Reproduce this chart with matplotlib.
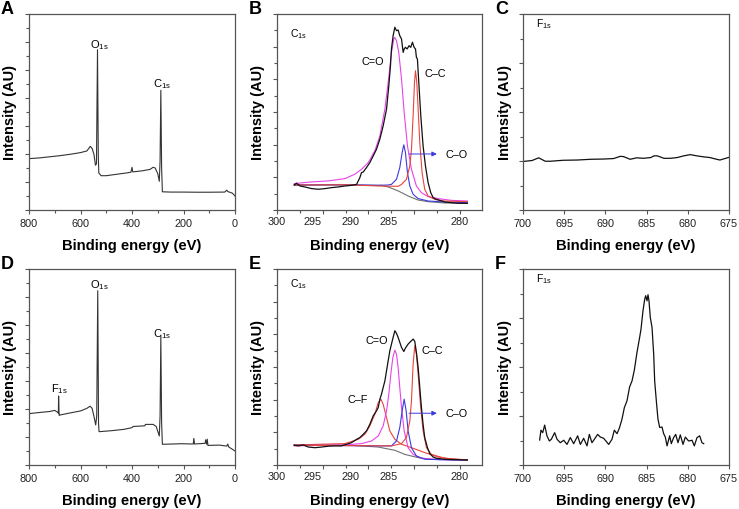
import matplotlib
matplotlib.use("Agg")
import matplotlib.pyplot as plt
from matplotlib.ticker import MultipleLocator
from matplotlib.transforms import blended_transform_factory

plt.rcParams['font.family'] = ['Liberation Sans', 'DejaVu Sans']
plt.rcParams['mathtext.default'] = 'regular'

# ---- survey spectra (A: pristine, D: fluorinated) ----
a_ev = [800, 760, 720, 680, 640, 600, 575, 562, 555, 548, 542, 538, 534, 531, 529, 520, 500, 460,
        420, 404, 400, 397, 360, 330, 318, 310, 300, 294, 291, 288, 285, 282, 250, 200, 150, 100,
        40, 32, 28, 10, 0]
a_int = [3.67, 3.72, 3.80, 3.88, 3.98, 4.10, 4.22, 4.55, 4.40, 4.00, 3.20, 3.30, 11.45, 4.0, 2.65,
         2.45, 2.45, 2.55, 2.65, 2.70, 3.05, 2.72, 2.80, 2.90, 3.05, 3.00, 2.60, 2.05, 3.5, 8.55,
         3.0, 1.30, 1.28, 1.28, 1.27, 1.27, 1.28, 1.42, 1.32, 1.20, 1.00]

d_ev = [800, 760, 720, 700, 690, 686, 685, 683, 680, 640, 600, 575, 563, 555, 548, 541, 537, 533,
        530, 528, 480, 430, 400, 396, 350, 348, 318, 306, 294, 291, 288, 285, 282, 240, 210, 162,
        160, 157, 116, 114, 110, 108, 105, 60, 32, 28, 25, 0]
d_int = [3.67, 3.75, 3.82, 3.90, 3.78, 3.70, 4.93, 3.55, 3.57, 3.72, 3.86, 4.05, 4.20, 4.05, 3.50,
         2.86, 3.5, 12.45, 3.0, 2.38, 2.45, 2.55, 2.67, 2.75, 2.80, 2.90, 2.90, 2.75, 2.07, 3.5,
         9.2, 3.0, 1.48, 1.50, 1.52, 1.50, 1.90, 1.50, 1.55, 1.80, 1.48, 1.85, 1.40, 1.42, 1.35,
         1.50, 1.30, 1.00]

# ---- C1s high resolution, panel B ----
b_ev = [298.11, 297.85, 297.49, 296.94, 296.21, 295.48, 294.75, 294.03, 293.30, 292.57, 291.84,
        291.29, 290.93, 290.75, 290.56, 290.20, 289.84, 289.47, 289.11, 288.74, 288.38, 288.01,
        287.76, 287.58, 287.47, 287.29, 287.10, 286.92, 286.74, 286.56, 286.37, 286.19, 286.08,
        285.94, 285.76, 285.54, 285.36, 285.17, 284.99, 284.84, 284.74, 284.63, 284.48, 284.26,
        284.01, 283.75, 283.46, 283.17, 282.91, 282.55, 282.19, 281.64, 280.91, 280.18, 279.45,
        279.16]
b_int = [1.53, 1.64, 1.47, 1.41, 1.31, 1.27, 1.31, 1.37, 1.41, 1.47, 1.51, 1.57, 1.98, 2.29, 2.33,
         2.60, 2.90, 3.31, 3.72, 4.34, 5.15, 6.18, 7.61, 8.83, 9.86, 10.67, 11.19, 10.98, 11.02,
         10.67, 10.47, 9.65, 9.86, 9.96, 9.86, 10.06, 9.96, 10.27, 9.96, 9.86, 9.35, 9.24, 7.81,
         5.77, 3.93, 2.70, 1.68, 1.06, 0.76, 0.65, 0.59, 0.49, 0.45, 0.41, 0.41, 0.41]

b_cdo_ev = [298.11, 296.21, 294.39, 292.57, 291.48, 290.75, 290.02, 289.29, 288.74, 288.19, 287.83,
            287.47, 287.21, 287.10, 286.92, 286.67, 286.37, 286.08, 285.72, 285.28, 284.74, 284.19,
            283.46, 282.37, 280.91, 279.16]
b_cdo_int = [1.62, 1.72, 1.78, 1.92, 2.19, 2.49, 2.90, 3.62, 4.54, 6.18, 7.81, 9.65, 10.47, 10.57,
             10.37, 9.65, 8.02, 5.97, 3.93, 2.49, 1.47, 1.06, 0.82, 0.70, 0.59, 0.55]

b_cc_ev = [298.11, 292.57, 288.92, 286.74, 286.37, 285.83, 285.46, 285.28, 285.10, 284.95, 284.84,
           284.70, 284.55, 284.37, 284.12, 283.83, 283.46, 282.73, 281.64, 279.16]
b_cc_int = [1.53, 1.55, 1.47, 1.45, 1.57, 1.88, 2.70, 3.72, 5.77, 7.81, 8.53, 7.81, 6.18, 4.13,
            2.29, 1.27, 0.86, 0.65, 0.55, 0.51]

b_co_ev = [298.11, 292.57, 288.92, 287.83, 287.47, 286.92, 286.56, 286.30, 286.12, 285.94, 285.72,
           285.46, 285.10, 284.55, 283.46, 281.64, 279.16]
b_co_int = [1.53, 1.55, 1.51, 1.53, 1.57, 1.88, 2.60, 3.52, 3.99, 3.52, 2.29, 1.47, 0.96, 0.70,
            0.55, 0.49, 0.45]

b_bg_ev = [298.11, 292.57, 288.56, 287.83, 286.74, 285.65, 284.55, 283.46, 281.64, 279.16]
b_bg_int = [1.53, 1.53, 1.51, 1.41, 1.17, 0.86, 0.61, 0.51, 0.43, 0.41]

# ---- C1s high resolution, panel E ----
e_ev = [298.11, 297.67, 297.12, 296.57, 295.85, 295.12, 294.39, 293.66, 292.94, 292.39, 291.84,
        291.29, 290.93, 290.56, 290.20, 289.84, 289.47, 289.11, 288.92, 288.74, 288.56, 288.38,
        288.19, 288.01, 287.83, 287.65, 287.47, 287.29, 287.10, 286.92, 286.74, 286.56, 286.37,
        286.12, 285.94, 285.65, 285.46, 285.28, 285.10, 284.92, 284.74, 284.55, 284.37, 284.19,
        284.01, 283.83, 283.53, 283.28, 282.91, 282.55, 281.64, 280.55, 279.16]
e_int = [1.21, 1.17, 1.23, 1.10, 1.06, 1.10, 1.15, 1.17, 1.17, 1.27, 1.37, 1.57, 1.68, 1.88, 2.09,
         2.49, 3.01, 3.31, 3.52, 4.03, 4.34, 4.74, 5.15, 5.77, 6.38, 6.99, 7.40, 7.81, 8.22, 8.06,
         7.81, 7.51, 7.20, 6.95, 7.16, 7.40, 7.51, 7.61, 7.71, 7.57, 6.89, 5.97, 4.74, 3.52, 2.49,
         1.68, 1.06, 0.70, 0.49, 0.41, 0.35, 0.33, 0.31]

e_cf_ev = [298.11, 292.57, 291.11, 290.38, 289.84, 289.29, 288.92, 288.63, 288.38, 288.01, 287.65,
           287.10, 286.37, 285.28, 283.83, 282.37, 280.91, 279.16]
e_cf_int = [1.23, 1.31, 1.57, 1.88, 2.39, 3.11, 3.82, 4.03, 3.72, 2.90, 2.09, 1.57, 1.27, 1.06,
            0.76, 0.49, 0.37, 0.31]

e_cdo_ev = [298.11, 292.57, 290.75, 289.66, 288.92, 288.38, 288.01, 287.76, 287.54, 287.32, 287.10,
            286.92, 286.74, 286.56, 286.37, 286.08, 285.65, 285.10, 284.19, 282.37, 279.16]
e_cdo_int = [1.17, 1.23, 1.31, 1.47, 1.78, 2.39, 3.31, 4.34, 5.56, 6.58, 7.03, 6.79, 5.97, 4.74,
             3.52, 2.09, 1.06, 0.65, 0.41, 0.33, 0.29]

e_co_ev = [298.11, 288.92, 287.47, 286.92, 286.56, 286.30, 286.08, 285.86, 285.65, 285.28, 284.74,
           283.83, 279.16]
e_co_int = [1.21, 1.17, 1.17, 1.47, 2.29, 3.31, 4.03, 3.31, 2.09, 1.06, 0.55, 0.35, 0.29]

e_cc_ev = [298.11, 287.47, 286.37, 285.83, 285.46, 285.28, 285.10, 284.92, 284.74, 284.55, 284.30,
           284.01, 283.64, 283.10, 281.64, 279.16]
e_cc_int = [1.21, 1.17, 1.31, 1.68, 2.70, 3.93, 6.18, 7.30, 6.79, 5.56, 3.72, 2.09, 1.06, 0.65,
            0.41, 0.31]

e_bg_ev = [298.11, 292.57, 288.92, 287.10, 286.01, 284.55, 283.10, 279.16]
e_bg_int = [1.21, 1.23, 1.10, 0.90, 0.65, 0.45, 0.35, 0.31]

# ---- F1s high resolution (C: pristine, F: fluorinated) ----
c_ev = [700.0, 698.9, 698.1, 697.3, 696.7, 695.1, 693.4, 691.8, 690.2, 689.0, 688.2, 687.8, 687.0,
        686.2, 685.4, 684.5, 684.1, 683.7, 682.9, 682.1, 681.3, 680.5, 679.7, 678.9, 678.1, 677.3,
        676.5, 676.1, 675.5, 675.0]
c_int = [1.98, 2.02, 2.13, 1.99, 1.99, 2.03, 2.04, 2.07, 2.08, 2.10, 2.19, 2.18, 2.07, 2.13, 2.11,
         2.14, 2.21, 2.21, 2.11, 2.11, 2.14, 2.21, 2.26, 2.21, 2.17, 2.14, 2.07, 2.04, 2.10, 2.15]

f_ev = [697.98, 697.82, 697.61, 697.37, 697.09, 696.80, 696.56, 696.16, 695.87, 695.47, 695.06,
        694.66, 694.26, 693.85, 693.37, 693.04, 692.64, 692.23, 691.95, 691.63, 691.34, 690.94,
        690.61, 690.21, 689.60, 689.20, 688.92, 688.59, 688.31, 687.99, 687.70, 687.38, 687.06,
        686.77, 686.49, 686.17, 685.88, 685.68, 685.44, 685.23, 685.11, 684.95, 684.83, 684.71,
        684.55, 684.34, 684.14, 684.02, 683.82, 683.62, 683.41, 683.13, 682.93, 682.73, 682.52,
        682.20, 682.00, 681.72, 681.47, 681.19, 680.91, 680.58, 680.30, 679.90, 679.49, 679.21,
        678.88, 678.56, 678.28, 678.07]
f_int = [1.02, 1.42, 1.32, 1.63, 1.19, 0.98, 1.05, 1.32, 1.05, 0.91, 1.01, 0.84, 1.12, 0.87, 1.19,
         0.84, 1.09, 0.78, 1.25, 0.91, 1.05, 1.25, 1.14, 1.09, 0.84, 1.05, 1.42, 1.28, 1.50, 1.87,
         2.34, 2.62, 3.19, 3.43, 3.87, 4.59, 5.14, 5.54, 6.29, 6.77, 6.91, 6.70, 6.95, 6.70, 6.02,
         5.61, 4.52, 3.43, 2.62, 1.87, 1.53, 1.55, 1.28, 1.14, 0.78, 1.19, 0.87, 1.12, 1.25, 0.91,
         1.23, 0.84, 1.14, 0.98, 1.01, 0.78, 1.12, 1.19, 0.91, 0.87]

survey_ticks = [800, 600, 400, 200, 0]
c1s_ticks = [300, 295, 290, 285, 280]
# the C1s panels print their labels off the tick marks; these are where they sit
c1s_label_pos = [300, 296.07, 291.91, 287.76, 280]
c1s_labels = ['300', '295', '290', '285', '280']
f1s_ticks = [700, 695, 690, 685, 680, 675]

SPINE = '#555555'
MAGENTA = '#e843e8'
RED = '#e8453c'
BLUE = '#3a3ae0'
GRAY = '#707070'

fig = plt.figure(figsize=(7.39, 5.10), dpi=100)

W, H = 739.0, 510.0


def make_ax(left_px, top_px, w_px, h_px):
    return fig.add_axes([left_px / W, 1 - (top_px + h_px) / H, w_px / W, h_px / H])


def style(ax, xlim, ylim, xticks, xminor, ymajor, show_labels=True):
    ax.set_xlim(*xlim)
    ax.set_ylim(*ylim)
    ax.set_xticks(xticks)
    if show_labels:
        ax.set_xticklabels([str(t) for t in xticks])
    else:
        ax.set_xticklabels([])
    if xminor:
        ax.xaxis.set_minor_locator(MultipleLocator(xminor))
    ax.yaxis.set_major_locator(MultipleLocator(ymajor * 2))
    ax.yaxis.set_minor_locator(MultipleLocator(ymajor))
    ax.set_yticklabels([])
    ax.tick_params(which='both', direction='out', colors=SPINE, width=0.8,
                   labelcolor='#222222', labelsize=7.8, top=False, right=False)
    ax.tick_params(which='major', length=3, pad=3)
    ax.tick_params(which='minor', length=2)
    for s in ax.spines.values():
        s.set_color(SPINE)
        s.set_linewidth(0.9)


rows = [15, 270]
cols = [29, 277, 523]
widths = [206, 205, 206]
AX_H = 196

axes = {}
letters = ['A', 'B', 'C', 'D', 'E', 'F']
k = 0
for r, top in enumerate(rows):
    for c, left in enumerate(cols):
        axes[letters[k]] = make_ax(left, top, widths[c], AX_H)
        k += 1

# survey panels
for key, ev, inten in [('A', a_ev, a_int), ('D', d_ev, d_int)]:
    ax = axes[key]
    ax.plot(ev, inten, color='#333333', lw=0.8)
    style(ax, (800, 0), (0, 14), survey_ticks, 100, 1)

axes['A'].text(563, 11.62, 'O$_{1s}$', fontsize=8)
axes['A'].text(318, 8.83, 'C$_{1s}$', fontsize=8)
axes['D'].text(563, 12.67, 'O$_{1s}$', fontsize=8)
axes['D'].text(318, 9.2, 'C$_{1s}$', fontsize=8)
axes['D'].text(715, 5.3, 'F$_{1s}$', fontsize=8)

# C1s panels
ax = axes['B']
ax.plot(b_bg_ev, b_bg_int, color=GRAY, lw=0.8)
ax.plot(b_cdo_ev, b_cdo_int, color=MAGENTA, lw=0.8)
ax.plot(b_co_ev, b_co_int, color=BLUE, lw=0.8)
ax.plot(b_cc_ev, b_cc_int, color=RED, lw=0.8)
ax.plot(b_ev, b_int, color='#111111', lw=0.9)
ax.text(298.6, 10.63, 'C$_{1s}$', fontsize=7.5)
ax.text(290.7, 8.96, 'C=O', fontsize=7.8)
ax.text(283.8, 8.2, 'C\u2013C', fontsize=7.8)
ax.annotate('', xy=(282.2, 3.43), xytext=(285.85, 3.43),
            arrowprops=dict(arrowstyle='-|>', color=BLUE, lw=0.7, mutation_scale=7))
ax.text(281.6, 3.43, 'C\u2013O', fontsize=7.8, va='center')

ax = axes['E']
ax.plot(e_bg_ev, e_bg_int, color=GRAY, lw=0.8)
ax.plot(e_cf_ev, e_cf_int, color=RED, lw=0.8)
ax.plot(e_cdo_ev, e_cdo_int, color=MAGENTA, lw=0.8)
ax.plot(e_co_ev, e_co_int, color=BLUE, lw=0.8)
ax.plot(e_cc_ev, e_cc_int, color=RED, lw=0.8)
ax.plot(e_ev, e_int, color='#111111', lw=0.9)
ax.text(298.6, 10.94, 'C$_{1s}$', fontsize=7.5)
ax.text(290.3, 7.45, 'C=O', fontsize=7.8)
ax.text(284.2, 6.85, 'C\u2013C', fontsize=7.8)
ax.text(292.24, 3.83, 'C\u2013F', fontsize=7.8)
ax.annotate('', xy=(282.2, 3.17), xytext=(285.85, 3.17),
            arrowprops=dict(arrowstyle='-|>', color=BLUE, lw=0.7, mutation_scale=7))
ax.text(281.6, 3.17, 'C\u2013O', fontsize=7.8, va='center')

for key in ['B', 'E']:
    ax = axes[key]
    style(ax, (300, 277.56), (0, 12), c1s_ticks, 2.5, 1, show_labels=False)
    trans = blended_transform_factory(ax.transData, ax.transAxes)
    for pos, lab in zip(c1s_label_pos, c1s_labels):
        ax.text(pos, -0.032, lab, transform=trans, ha='center', va='top',
                fontsize=7.8, color='#222222')

# F1s panels
axes['C'].plot(c_ev, c_int, color='#111111', lw=0.9)
axes['F'].plot(f_ev, f_int, color='#111111', lw=0.9)
for key in ['C', 'F']:
    style(axes[key], (700, 675), (0, 8), f1s_ticks, None, 1)
    axes[key].text(698.4, 7.52, 'F$_{1s}$', fontsize=7.5)

# axis labels and panel letters
ylab_x = [10, 258, 505]
for r, top in enumerate(rows):
    for c, left in enumerate(cols):
        key = letters[r * 3 + c]
        fig.text(ylab_x[c] / W, 1 - (top + AX_H / 2) / H, 'Intensity (AU)', rotation=90,
                 ha='center', va='center', fontsize=10.5, fontweight='bold')
        fig.text((left + widths[c] / 2) / W, 1 - (top + 231) / H, 'Binding energy (eV)',
                 ha='center', va='center', fontsize=10.6, fontweight='bold')
        fig.text((left - 28) / W, 1 - (top - 14) / H, key, ha='left', va='top',
                 fontsize=13, fontweight='bold')

fig.savefig('out.png', dpi=100)
